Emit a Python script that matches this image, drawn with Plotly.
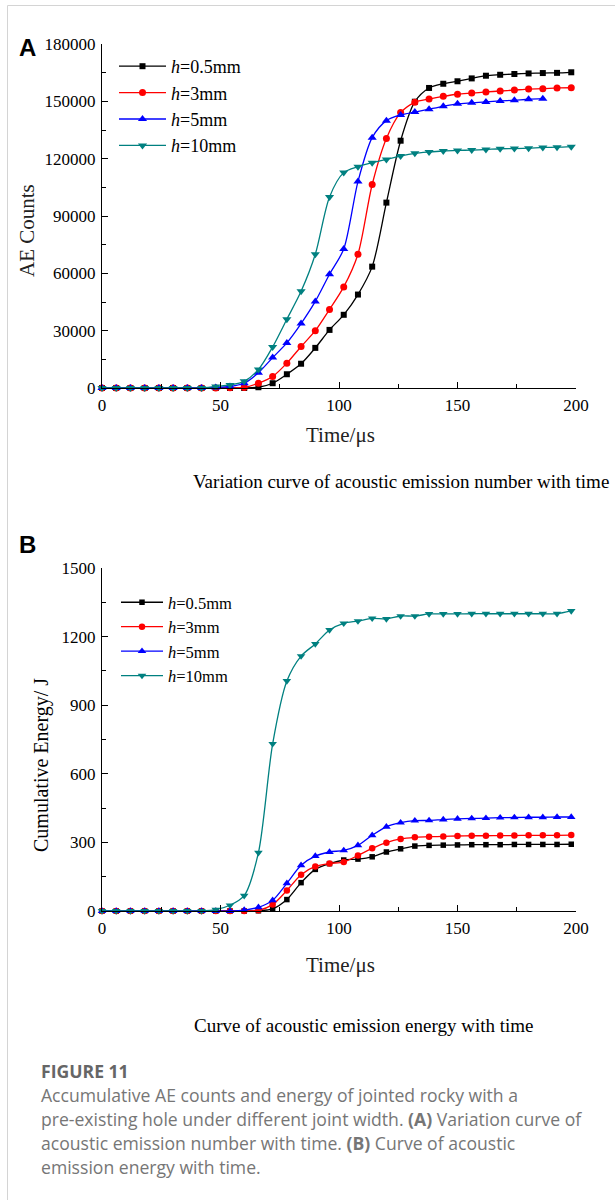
import plotly.graph_objects as go

W, H = 615, 1200

time_us = [0, 6, 12, 18, 24, 30, 36, 42, 48, 54, 60, 66, 72, 78, 84, 90, 96, 102,
           108, 114, 120, 126, 132, 138, 144, 150, 156, 162, 168, 174, 180, 186, 192, 198]
time_blue_a = time_us[:32]

series_names = ["<i>h</i>=0.5mm", "<i>h</i>=3mm", "<i>h</i>=5mm", "<i>h</i>=10mm"]

# Panel A: accumulative AE counts
ae_h05 = [0, 0, 0, 0, 0, 0, 0, 0, 0, 0, 0, 400, 2500, 7200, 12700, 21000, 30400, 38300,
          48900, 63500, 97000, 129400, 149800, 157000, 159200, 160500, 162000, 163400,
          163900, 164300, 164600, 164800, 164900, 165200]
ae_h3 = [0, 0, 0, 0, 0, 0, 0, 0, 0, 100, 300, 2500, 6000, 13000, 21700, 30000, 41100, 52900,
         70000, 106500, 130600, 144100, 149500, 151200, 152600, 153700, 154300, 154900,
         155400, 155900, 156400, 156600, 157000, 157100]
ae_h5 = [0, 0, 0, 0, 0, 0, 0, 0, 200, 800, 2500, 8000, 15900, 23600, 33700, 45300, 59500,
         72700, 108000, 131000, 139900, 142900, 144400, 145900, 147400, 148700, 149200,
         149700, 150200, 150600, 151100, 151400]
ae_h10 = [0, 0, 0, 0, 0, 0, 0, 0, 800, 1600, 3500, 9700, 21500, 36000, 50600, 70000, 100000,
          112700, 115800, 117900, 119600, 121400, 122800, 123500, 124000, 124300, 124500,
          124800, 125200, 125300, 125500, 125900, 126000, 126300]

# Panel B: cumulative energy (J)
en_h05 = [0, 0, 0, 0, 0, 0, 0, 0, 0, 0, 0, 1, 9, 50, 124, 182, 207, 223, 227, 237, 258, 272,
          284, 287, 288, 289, 290, 290, 290, 291, 291, 291, 291, 292]
en_h3 = [0, 0, 0, 0, 0, 0, 0, 0, 0, 0, 0, 3, 28, 90, 159, 195, 208, 214, 243, 274, 299, 315,
         322, 325, 326, 328, 329, 329, 330, 330, 331, 331, 331, 332]
en_h5 = [0, 0, 0, 0, 0, 0, 0, 0, 0, 0, 4, 16, 47, 121, 200, 240, 258, 265, 287, 331, 368, 386,
         395, 396, 400, 403, 405, 406, 408, 409, 410, 410, 411, 411]
en_h10 = [0, 0, 0, 0, 0, 0, 0, 0, 6, 25, 67, 255, 731, 1006, 1115, 1168, 1229, 1258, 1268,
          1280, 1277, 1290, 1290, 1299, 1299, 1299, 1300, 1300, 1300, 1300, 1300, 1300, 1300, 1312]

colors = ["#000000", "#ff0000", "#0000ff", "#008080"]
symbols = ["square", "circle", "triangle-up", "triangle-down"]
msizes = [6, 7, 8, 8]

SERIF = "Liberation Serif"


def px_x(p):
    return p / W


def px_y(p):
    return 1 - p / H


fig = go.Figure()

a_x = [time_us, time_us, time_blue_a, time_us]
a_y = [ae_h05, ae_h3, ae_h5, ae_h10]
for i in range(4):
    fig.add_trace(go.Scatter(
        x=a_x[i], y=a_y[i], mode="lines+markers", name=series_names[i],
        line=dict(color=colors[i], width=1.3, shape="spline", smoothing=0.8),
        marker=dict(symbol=symbols[i], size=msizes[i], color=colors[i]),
        xaxis="x", yaxis="y", legend="legend", cliponaxis=False))

b_y = [en_h05, en_h3, en_h5, en_h10]
for i in range(4):
    fig.add_trace(go.Scatter(
        x=time_us, y=b_y[i], mode="lines+markers", name=series_names[i],
        line=dict(color=colors[i], width=1.3, shape="spline", smoothing=0.8),
        marker=dict(symbol=symbols[i], size=msizes[i] - 0.5, color=colors[i]),
        xaxis="x2", yaxis="y2", legend="legend2", cliponaxis=False))

tickfont = dict(family=SERIF, size=17, color="black")
common_x = dict(range=[0, 200], dtick=50, tick0=0, ticks="inside", ticklen=6, tickwidth=1.2,
                tickcolor="black", showline=True, linecolor="black", linewidth=1.3,
                showgrid=False, zeroline=False, tickfont=tickfont, automargin=False,
                minor=dict(dtick=25, ticks="inside", ticklen=3.5, tickwidth=1.2, tickcolor="black"),
                ticklabelstandoff=1)
common_y = dict(ticks="inside", ticklen=6, tickwidth=1.2, tickcolor="black",
                showline=True, linecolor="black", linewidth=1.3, showgrid=False, zeroline=False,
                tickfont=tickfont, automargin=False, tickformat="d", ticklabelstandoff=2)

dom_x = [px_x(102), px_x(576)]
fig.update_layout(
    width=W, height=H, margin=dict(l=0, r=0, t=0, b=0),
    paper_bgcolor="white", plot_bgcolor="white",
    xaxis=dict(domain=dom_x, anchor="y", **common_x),
    yaxis=dict(domain=[px_y(388), px_y(44)], range=[0, 180000], dtick=30000, anchor="x",
               minor=dict(dtick=15000, ticks="inside", ticklen=3.5, tickwidth=1.2, tickcolor="black"),
               **common_y),
    xaxis2=dict(domain=dom_x, anchor="y2", **common_x),
    yaxis2=dict(domain=[px_y(911), px_y(568)], range=[0, 1500], dtick=300, anchor="x2",
                minor=dict(dtick=150, ticks="inside", ticklen=3.5, tickwidth=1.2, tickcolor="black"),
                **common_y),
    legend=dict(x=px_x(114), y=px_y(48), xanchor="left", yanchor="top",
                font=dict(family=SERIF, size=18, color="black"), bgcolor="rgba(0,0,0,0)",
                itemwidth=47, tracegroupgap=0),
    legend2=dict(x=px_x(116), y=px_y(585), xanchor="left", yanchor="top",
                 font=dict(family=SERIF, size=16.5, color="black"), bgcolor="rgba(0,0,0,0)",
                 itemwidth=42, tracegroupgap=0),
    showlegend=True,
)

annots = [
    dict(text="<b>A</b>", x=px_x(27), y=px_y(47), font=dict(family="Liberation Sans", size=24, color="black")),
    dict(text="<b>B</b>", x=px_x(27), y=px_y(544), font=dict(family="Liberation Sans", size=24, color="black")),
    dict(text="AE Counts", x=px_x(27), y=px_y(231), textangle=-90, font=dict(family=SERIF, size=21, color="#222")),
    dict(text="Time/μs", x=px_x(340), y=px_y(435), font=dict(family=SERIF, size=21, color="#222")),
    dict(text="Variation curve of acoustic emission number with time", x=px_x(401), y=px_y(481),
         font=dict(family=SERIF, size=19, color="black")),
    dict(text="Cumulative Energy/ J", x=px_x(41), y=px_y(765), textangle=-90, font=dict(family=SERIF, size=20, color="black")),
    dict(text="Time/μs", x=px_x(340), y=px_y(965), font=dict(family=SERIF, size=21, color="#222")),
    dict(text="Curve of acoustic emission energy with time", x=px_x(363), y=px_y(1025),
         font=dict(family=SERIF, size=19, color="black")),
]
cap_font = dict(family="Open Sans", size=17.6, color="#767676")
annots.append(dict(text="<b>FIGURE 11</b>", x=px_x(39), y=px_y(1071), xanchor="left",
                   font=dict(family="Open Sans", size=17.6, color="#666666")))
cap_lines = [
    "Accumulative AE counts and energy of jointed rocky with a",
    "pre-existing hole under different joint width. <b>(A)</b> Variation curve of",
    "acoustic emission number with time. <b>(B)</b> Curve of acoustic",
    "emission energy with time.",
]
cap_y = [1095, 1119, 1143, 1167]
for t, yy in zip(cap_lines, cap_y):
    annots.append(dict(text=t, x=px_x(39), y=px_y(yy), xanchor="left", font=cap_font))

for a in annots:
    a.setdefault("xanchor", "center")
    a.update(xref="paper", yref="paper", yanchor="middle", showarrow=False)
fig.update_layout(annotations=annots)

fig.update_layout(shapes=[
    dict(type="line", xref="paper", yref="paper", x0=px_x(7.5), x1=px_x(7.5), y0=0, y1=px_y(5.5),
         line=dict(color="#d4d4d4", width=1)),
    dict(type="line", xref="paper", yref="paper", x0=px_x(7.5), x1=1, y0=px_y(5.5), y1=px_y(5.5),
         line=dict(color="#d4d4d4", width=1)),
])

fig.write_html("out.html", config={"displayModeBar": False},
               post_script="document.body.style.margin='0';document.body.style.overflow='hidden';")
